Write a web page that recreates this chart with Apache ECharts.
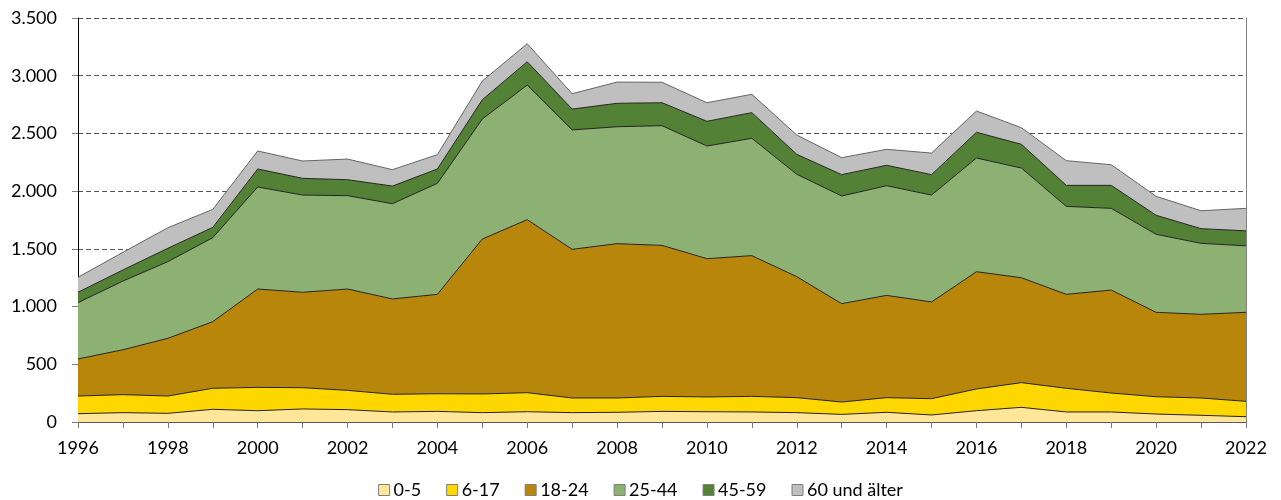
<!DOCTYPE html>
<html>
<head>
<meta charset="utf-8">
<script src="https://cdn.jsdelivr.net/npm/echarts@6/dist/echarts.min.js"></script>
<style>
  html, body { margin: 0; padding: 0; background: #fff; }
  #chart { width: 1281px; height: 500px; }
</style>
</head>
<body>
<div id="chart"></div>
<script>
//  Jahre
const years = ['1996', '1997', '1998', '1999', '2000', '2001', '2002', '2003', '2004', '2005', '2006', '2007', '2008',
    '2009', '2010', '2011', '2012', '2013', '2014', '2015', '2016', '2017', '2018', '2019', '2020', '2021', '2022'];

//  Altersgruppen
const seriesNames = ['0-5', '6-17', '18-24', '25-44', '45-59', '60 und älter'];

//  Werte je Altersgruppe (gestapelt)
const age0to5 = [72, 81, 75, 110, 98, 113, 107, 87, 92, 81, 89, 81, 84, 92, 89, 87, 81, 66, 84, 61, 98, 127, 87, 87, 69, 58, 46];
const age6to17 = [153, 156, 150, 182, 202, 184, 167, 153, 153, 162, 165, 127, 124, 130, 128, 135, 130, 107, 127, 141, 188, 214, 205, 164, 150, 150, 133];
const age18to24 = [321, 389, 500, 577, 852, 827, 878, 826, 861, 1342, 1499, 1288, 1337, 1308, 1198, 1219, 1048, 852, 886, 838, 1016, 909, 814, 892, 731, 725, 771];
const age25to44 = [488, 595, 664, 728, 884, 842, 809, 825, 962, 1040, 1166, 1034, 1013, 1037, 976, 1017, 887, 933, 950, 926, 985, 950, 762, 708, 676, 615, 576];
const age45to59 = [90, 96, 116, 89, 156, 145, 138, 153, 124, 167, 202, 181, 203, 199, 214, 222, 173, 185, 177, 177, 223, 206, 182, 199, 165, 127, 130];
const age60plus = [130, 153, 178, 156, 156, 150, 179, 142, 124, 162, 156, 133, 184, 177, 161, 159, 167, 147, 138, 187, 184, 144, 214, 179, 164, 155, 195];

const seriesValues = [age0to5, age6to17, age18to24, age25to44, age45to59, age60plus];

//  Farben
const colors = ['#FFE699', '#FFD700', '#B8860B', '#8DB172', '#538135', '#BFBFBF'];
const lineColors = ['#222', '#222', '#222', '#222', '#222', '#666'];

const FONT = 'Lato';

function formatDE(v) {
    return String(v).replace(/\B(?=(\d{3})+(?!\d))/g, '.');
}

const chart = echarts.init(document.getElementById('chart'));
chart.setOption({
    animation: false,
    backgroundColor: '#fff',
    color: colors,
    textStyle: {fontFamily: FONT},
    grid: {left: 78, right: 35, top: 18, bottom: 78},
    legend: {
        top: 476,
        left: 'center',
        icon: 'rect',
        itemWidth: 11,
        itemHeight: 11,
        itemGap: 25,
        textStyle: {fontFamily: FONT, fontSize: 18, color: '#000', padding: [0, 0, 0, -1]},
        itemStyle: {borderColor: '#7f7f7f', borderWidth: 1},
        data: seriesNames
    },
    xAxis: {
        type: 'category',
        data: years,
        boundaryGap: false,
        axisLine: {lineStyle: {color: '#595959', width: 1}},
        axisTick: {show: true, interval: 0, length: 6, lineStyle: {color: '#7f7f7f'}},
        axisLabel: {interval: 1, color: '#000', fontSize: 18, fontFamily: FONT, margin: 17},
        splitLine: {show: false}
    },
    yAxis: [{
        type: 'value',
        min: 0,
        max: 3500,
        interval: 500,
        axisLine: {show: true, lineStyle: {color: '#000', width: 1}},
        axisTick: {show: true, length: 6, lineStyle: {color: '#7f7f7f'}},
        axisLabel: {color: '#000', fontSize: 18, fontFamily: FONT, margin: 21, formatter: formatDE},
        splitLine: {lineStyle: {color: '#555', type: [5, 3], width: 1}}
    }, {
        type: 'value',
        position: 'right',
        min: 0,
        max: 3500,
        interval: 500,
        axisLine: {show: true, lineStyle: {color: '#808080', width: 1}},
        axisTick: {show: false},
        axisLabel: {show: false},
        splitLine: {show: false}
    }],
    series: seriesNames.map(function (name, i) {
        return {
            name: name,
            type: 'line',
            stack: 'total',
            data: seriesValues[i],
            symbol: 'none',
            lineStyle: {color: lineColors[i], width: 1},
            areaStyle: {color: colors[i], opacity: 1},
            itemStyle: {color: colors[i]}
        };
    })
});
</script>
</body>
</html>
